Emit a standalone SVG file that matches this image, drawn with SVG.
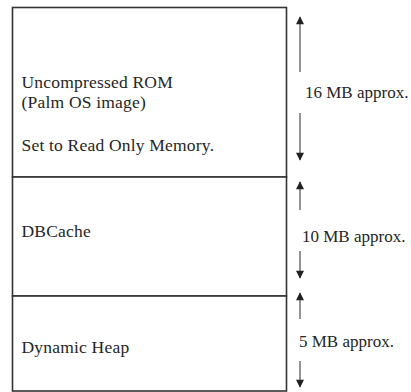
<svg xmlns="http://www.w3.org/2000/svg" width="411" height="392" viewBox="0 0 411 392">
<style>
.box{fill:#fff;stroke:#333;stroke-width:1.6}
.t{font-family:"Liberation Serif","Times New Roman",serif;font-size:17.5px;letter-spacing:0.2px;fill:#262626}
.r{font-size:17px;letter-spacing:0}
.ar{stroke:#666;stroke-width:1.4;fill:none}
</style>
<defs>
<marker id="ah" viewBox="0 0 10 10" refX="9" refY="5" markerWidth="9" markerHeight="8" markerUnits="userSpaceOnUse" orient="auto">
<path d="M0,0 L10,5 L0,10 z" fill="#222"/>
</marker>
</defs>
<rect width="411" height="392" fill="#fff"/>
<g id="rom">
<rect class="box" x="12.5" y="7.5" width="274" height="169.5"/>
<text class="t" x="21.5" y="88">Uncompressed ROM</text>
<text class="t" x="21.5" y="107.5">(Palm OS image)</text>
<text class="t" x="21.5" y="151">Set to Read Only Memory.</text>
</g>
<g id="dbcache">
<rect class="box" x="12.5" y="177" width="274" height="119"/>
<text class="t" x="21.5" y="237">DBCache</text>
</g>
<g id="heap">
<rect class="box" x="12.5" y="296" width="274" height="95"/>
<text class="t" x="21.5" y="353">Dynamic Heap</text>
</g>
<g id="connectors">
<line class="ar" x1="300" y1="72" x2="300" y2="17" marker-end="url(#ah)"/>
<line class="ar" x1="300" y1="113" x2="300" y2="160" marker-end="url(#ah)"/>
<line class="ar" x1="300" y1="210" x2="300" y2="182" marker-end="url(#ah)"/>
<line class="ar" x1="300" y1="251" x2="300" y2="278" marker-end="url(#ah)"/>
<line class="ar" x1="300" y1="319" x2="300" y2="293" marker-end="url(#ah)"/>
<line class="ar" x1="300" y1="361" x2="300" y2="387" marker-end="url(#ah)"/>
</g>
<g id="labels">
<text class="t r" x="305" y="98">16 MB approx.</text>
<text class="t r" x="302" y="242">10 MB approx.</text>
<text class="t r" x="299" y="347">5 MB approx.</text>
</g>
</svg>
